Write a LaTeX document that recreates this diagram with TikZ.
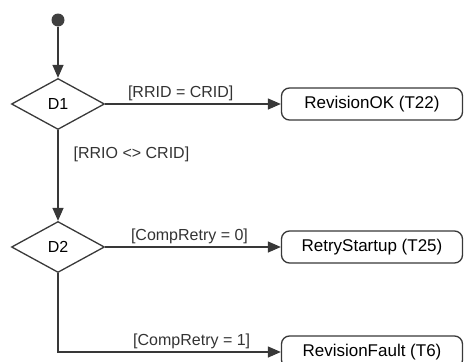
\documentclass[tikz,border=0pt]{standalone}
\usepackage{fontspec}
\setmainfont{Liberation Sans}
\usepackage{tikz}
\usetikzlibrary{positioning, arrows.meta, shapes.geometric}

\begin{document}
\begin{tikzpicture}[
  x=1pt, y=-1pt,
  font=\fontsize{16}{18}\selectfont,
  ln/.style={draw=black!78, line width=1.3pt},
  init/.style={circle, fill=black!75, inner sep=0pt, minimum size=13pt},
  dec/.style={diamond, ln, inner sep=0pt, minimum width=93pt, minimum height=51pt},
  act/.style={ln, rounded corners=8pt, minimum width=181pt, minimum height=32pt, inner sep=2pt,
              font=\fontsize{17}{19}\selectfont},
  arr/.style={ln, -{Triangle[length=13pt, width=11pt]}},
  lbl/.style={text=black!80, inner sep=3pt}
]
\useasboundingbox (0,0) rectangle (464,362);
\node[init] (start) at (58,20) {};
\node[dec] (d1) at (58,104) {D1};
\node[act] (ok) at (372,104) {RevisionOK (T22)};
\node[dec] (d2) at (58,247) {D2};
\node[act] (retry) at (372,247) {RetryStartup (T25)};
\node[act] (fault) at (372,352) {RevisionFault (T6)};
\draw[arr] (start) -- (d1.north);
\draw[arr] (d1.east) -- node[lbl, above, pos=0.43]{[RRID = CRID]} (ok.west);
\draw[arr] (d1.south) -- node[lbl, right, pos=0.27, xshift=12pt]{[RRIO <> CRID]} (d2.north);
\draw[arr] (d2.east) -- node[lbl, above, pos=0.48]{[CompRetry = 0]} (retry.west);
\draw[arr] (d2.south) |- node[lbl, above, pos=0.8]{[CompRetry = 1]} (fault.west);
\end{tikzpicture}
\end{document}
